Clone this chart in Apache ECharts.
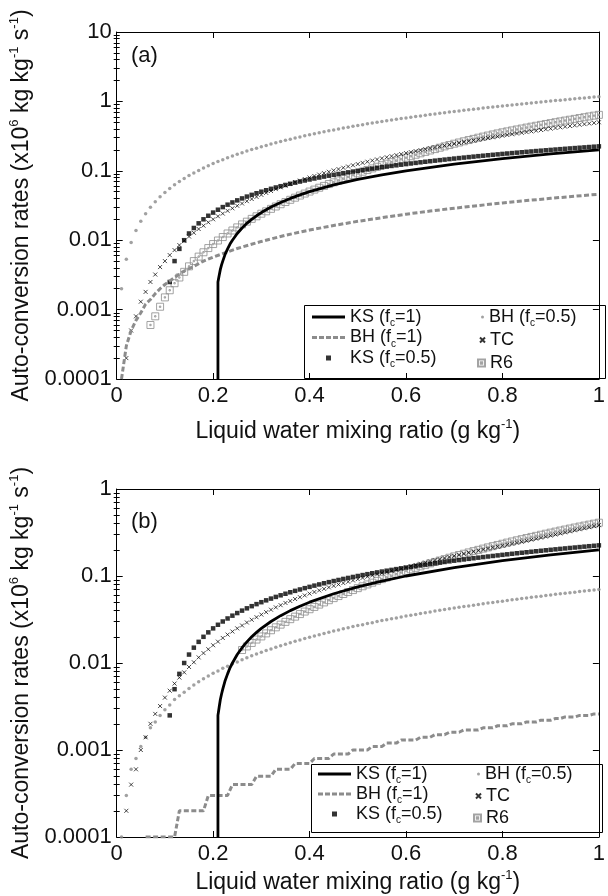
<!DOCTYPE html>
<html><head><meta charset="utf-8">
<script src="https://cdn.jsdelivr.net/npm/echarts@6/dist/echarts.min.js"></script>
<style>html,body{margin:0;padding:0;background:#fff}#c{width:608px;height:896px}</style>
</head><body><div id="c"></div>
<script>
// ---------------- DATA ----------------
const qGrid = [0.01,0.02,0.03,0.04,0.05,0.06,0.07,0.08,0.09,0.10,0.11,0.12,0.13,0.14,0.15,0.16,0.17,0.18,0.19,0.20,
0.21,0.22,0.23,0.24,0.25,0.26,0.27,0.28,0.29,0.30,0.31,0.32,0.33,0.34,0.35,0.36,0.37,0.38,0.39,0.40,
0.41,0.42,0.43,0.44,0.45,0.46,0.47,0.48,0.49,0.50,0.51,0.52,0.53,0.54,0.55,0.56,0.57,0.58,0.59,0.60,
0.61,0.62,0.63,0.64,0.65,0.66,0.67,0.68,0.69,0.70,0.71,0.72,0.73,0.74,0.75,0.76,0.77,0.78,0.79,0.80,
0.81,0.82,0.83,0.84,0.85,0.86,0.87,0.88,0.89,0.90,0.91,0.92,0.93,0.94,0.95,0.96,0.97,0.98,0.99,1.00];

const xTickLabels = ['0','0.2','0.4','0.6','0.8','1'];
const yDecadesA = [0.0001,0.001,0.01,0.1,1,10];
const yLabelsA = ['0.0001','0.001','0.01','0.1','1','10'];
const yDecadesB = [0.0001,0.001,0.01,0.1,1];
const yLabelsB = ['0.0001','0.001','0.01','0.1','1'];

// KS (fc=1) solid line, same in both panels
const ksFullQ = [0.21,0.21,0.2125,0.215,0.2175,0.22,0.225,0.23,0.235,0.24,0.25,0.26,0.27,0.28,0.29,0.30,0.32,0.34,0.36,0.38,0.40,0.45,0.50,0.55,0.60,0.70,0.80,0.90,1.00];
const ksFullRate = [0.0001,0.0025,0.0031,0.0038,0.0044,0.005,0.0063,0.0075,0.0088,0.01,0.0125,0.015,0.0175,0.02,0.0225,0.025,0.03,0.035,0.04,0.045,0.05,0.0625,0.075,0.0875,0.1,0.125,0.15,0.175,0.2];

// KS (fc=0.5) squares, both panels (q = 0.11 ... 1.00)
const ksHalfRate = [0.0025,0.005,0.0075,0.01,0.0125,0.015,0.0175,0.02,0.0225,0.025,
0.0275,0.03,0.0325,0.035,0.0375,0.04,0.0425,0.045,0.0475,0.05,0.0525,0.055,0.0575,0.06,0.0625,0.065,0.0675,0.07,0.0725,0.075,
0.0775,0.08,0.0825,0.085,0.0875,0.09,0.0925,0.095,0.0975,0.1,0.1025,0.105,0.1075,0.11,0.1125,0.115,0.1175,0.12,0.1225,0.125,
0.1275,0.13,0.1325,0.135,0.1375,0.14,0.1425,0.145,0.1475,0.15,0.1525,0.155,0.1575,0.16,0.1625,0.165,0.1675,0.17,0.1725,0.175,
0.1775,0.18,0.1825,0.185,0.1875,0.19,0.1925,0.195,0.1975,0.2,0.2025,0.205,0.2075,0.21,0.2125,0.215,0.2175,0.22,0.2225,0.225];

// ---- panel (a) ----
const bhHalfA = [0.0020,0.0053,0.0093,0.0138,0.0187,0.0241,0.0298,0.0359,0.0422,0.0488,0.0556,0.0627,0.07,0.0776,0.0853,0.0933,0.1014,0.1098,0.1183,0.1269,
0.1358,0.1448,0.1539,0.1633,0.1727,0.1823,0.1921,0.202,0.212,0.2221,0.2324,0.2428,0.2534,0.264,0.2748,0.2857,0.2967,0.3078,0.3191,0.3304,
0.3419,0.3534,0.3651,0.3768,0.3887,0.4007,0.4128,0.4249,0.4372,0.4496,0.462,0.4746,0.4872,0.4999,0.5128,0.5257,0.5387,0.5518,0.5649,0.5782,
0.5915,0.605,0.6184,0.632,0.6457,0.6594,0.6732,0.6871,0.7011,0.7152,0.7293,0.7436,0.7578,0.7722,0.7866,0.8012,0.8157,0.8304,0.8451,0.8599,
0.8748,0.8897,0.9047,0.9197,0.9349,0.9502,0.9654,0.9808,0.9962,1.0116,1.0273,1.0428,1.0584,1.0742,1.09,1.1059,1.1218,1.1378,1.1538,1.17];
const tcA = [0.0002,0.0005,0.0008,0.0013,0.0018,0.0025,0.0032,0.0041,0.005,0.0061,0.0072,0.0085,0.0098,0.0113,0.0128,0.0145,0.0162,0.0181,0.02,
0.0221,0.0242,0.0265,0.0288,0.0313,0.0338,0.0365,0.0392,0.0421,0.045,0.0481,0.0512,0.0545,0.0578,0.0613,0.0648,0.0685,0.0722,0.0761,0.08,
0.0841,0.0882,0.0925,0.0968,0.1013,0.1058,0.1105,0.1152,0.1201,0.125,0.1301,0.1352,0.1405,0.1458,0.1513,0.1568,0.1625,0.1682,0.1741,0.18,
0.1861,0.1922,0.1985,0.2048,0.2113,0.2178,0.2245,0.2312,0.2381,0.245,0.2521,0.2592,0.2665,0.2738,0.2813,0.2888,0.2965,0.3042,0.3121,0.32,
0.3281,0.3362,0.3445,0.3528,0.3613,0.3698,0.3785,0.3872,0.3961,0.405,0.4141,0.4232,0.4325,0.4418,0.4513,0.4608,0.4705,0.4802,0.4901,0.5];
const r6A = [0.0006,0.0008,0.0011,0.0015,0.0019,0.0024,0.0029,0.0035,0.0042,0.005,0.0058,0.0067,0.0077,0.0088,
0.0099,0.0111,0.0125,0.0138,0.0153,0.0169,0.0185,0.0203,0.0221,0.0241,0.0261,0.0283,0.0306,0.033,0.0355,0.0382,0.041,0.044,0.047,0.0502,
0.0536,0.057,0.0606,0.0644,0.0682,0.0726,0.0771,0.0818,0.0867,0.0918,0.0971,0.1026,0.1083,0.1143,0.1204,0.1267,0.1333,0.1401,0.1471,0.1543,
0.1622,0.1703,0.1787,0.1873,0.1963,0.2055,0.2151,0.2249,0.2351,0.2456,0.2559,0.2664,0.2773,0.2884,0.2999,0.311,0.3224,0.3341,0.3461,0.3583,
0.37,0.382,0.3943,0.4067,0.4194,0.4324,0.4456,0.459,0.4727,0.4866,0.5008,0.5153,0.53,0.5449,0.5601,0.5756,0.5913,0.6073,0.6235,0.64];
const bhFullQA = [0.01,0.02,0.03,0.04,0.05,0.06,0.07,0.08,0.09,0.10,0.12,0.14,0.16,0.18,0.20,0.25,0.30,0.35,0.40,0.45,0.50,0.55,0.60,0.65,0.70,0.75,0.80,0.85,0.90,0.95,1.00];
const bhFullA = [0.0001,0.0003,0.0005,0.0007,0.0009,0.0012,0.0014,0.0017,0.002,0.0023,0.0029,0.0036,0.0042,0.005,0.0057,0.0076,0.0096,0.0118,0.014,0.0163,0.0187,0.0211,0.0237,0.0263,0.0289,0.0316,0.0344,0.0372,0.0401,0.043,0.046];

// ---- panel (b) ----
const bhHalfB = [0.0001,0.0003,0.0006,0.0008,0.0011,0.0014,0.0018,0.0021,0.0025,0.0029,0.0033,0.0038,0.0042,0.0046,0.0051,0.0056,0.0061,0.0066,0.0071,0.0076,
0.0081,0.0087,0.0092,0.0098,0.0103,0.0109,0.0115,0.0121,0.0127,0.0133,0.0139,0.0145,0.0152,0.0158,0.0164,0.0171,0.0178,0.0184,0.0191,0.0198,
0.0205,0.0211,0.0218,0.0225,0.0233,0.024,0.0247,0.0254,0.0262,0.0269,0.0276,0.0284,0.0291,0.0299,0.0307,0.0315,0.0322,0.033,0.0338,0.0346,
0.0354,0.0362,0.037,0.0378,0.0386,0.0395,0.0403,0.0411,0.0419,0.0428,0.0436,0.0445,0.0453,0.0462,0.0471,0.0479,0.0488,0.0497,0.0506,0.0514,
0.0523,0.0532,0.0541,0.055,0.0559,0.0568,0.0578,0.0587,0.0596,0.0605,0.0615,0.0624,0.0633,0.0643,0.0652,0.0662,0.0671,0.0681,0.069,0.07];
const tcB = [0.0002,0.0004,0.0006,0.001,0.0014,0.002,0.0026,0.0032,0.004,0.0048,0.0058,0.0068,0.0078,0.009,0.0102,0.0116,0.013,0.0144,0.016,
0.0176,0.0194,0.0212,0.023,0.025,0.027,0.0292,0.0314,0.0336,0.036,0.0384,0.041,0.0436,0.0462,0.049,0.0516,0.0544,0.0571,0.0598,0.0627,
0.0655,0.0683,0.0712,0.074,0.077,0.0799,0.0829,0.0859,0.0889,0.092,0.0951,0.0982,0.1014,0.1045,0.1077,0.1111,0.1147,0.1182,0.1217,0.1253,
0.1295,0.1338,0.1382,0.1425,0.147,0.1516,0.1563,0.161,0.1656,0.1705,0.1754,0.1804,0.1855,0.1905,0.1958,0.201,0.2064,0.2118,0.2172,0.2227,
0.2288,0.2351,0.2414,0.2478,0.2543,0.2615,0.2689,0.2763,0.2839,0.2916,0.3001,0.3088,0.3176,0.3265,0.3357,0.345,0.3546,0.3642,0.374,0.384];
const r6B = [0.0141,0.0155,0.017,0.0186,0.0202,0.0219,0.0238,0.0257,0.0276,0.0297,0.0319,0.0341,0.0365,0.039,0.0415,
0.0441,0.0469,0.0497,0.0527,0.0557,0.0588,0.0621,0.0654,0.0689,0.0725,0.0762,0.08,0.0838,0.0879,0.092,0.0962,0.1006,0.105,0.1096,0.1143,
0.1192,0.1241,0.1292,0.1344,0.1397,0.1451,0.1506,0.1563,0.1622,0.1681,0.1742,0.1803,0.1867,0.1931,0.1997,0.2065,0.2133,0.2203,0.2274,0.2347,
0.2421,0.2496,0.2573,0.2651,0.2731,0.2812,0.2894,0.2979,0.3064,0.3151,0.3239,0.3329,0.342,0.3512,0.3607,0.3702,0.3799,0.3898,0.3998,0.41];
const bhFullB = [0.0001,0.0001,0.0001,0.0001,0.0001,0.0001,0.0001,
0.0002,0.0002,0.0002,0.0002,0.0002,0.0002,
0.0003,0.0003,0.0003,0.0003,0.0003,
0.0004,0.0004,0.0004,0.0004,0.0004,
0.0005,0.0005,0.0005,0.0005,
0.0006,0.0006,0.0006,0.0006,
0.0007,0.0007,0.0007,0.0007,
0.0008,0.0008,0.0008,0.0008,
0.0009,0.0009,0.0009,0.0009,
0.001,0.001,0.001,0.001,
0.0011,0.0011,0.0011,
0.0012,0.0012,0.0012,
0.0013,0.0013,0.0013,0.0013,
0.0014,0.0014,0.0014,
0.0015,0.0015,0.0015,
0.0016,0.0016,0.0016,
0.0017,0.0017,0.0017,0.0017,
0.0018,0.0018,0.0018,
0.0019,0.0019,0.0019,
0.002,0.002,0.002,
0.0021,0.0021,0.0021,
0.0022,0.0022,0.0022,
0.0023,0.0023,
0.0024,0.0024,0.0024,
0.0025,0.0025,0.0025,
0.0026,0.0026];

// ---------------- CHART ----------------
const FONT = '"Liberation Sans", Arial, Helvetica, sans-serif';
const INK = '#111';
const GRAY = '#8c8c8c';
const NAME = {ks1:'KS (fc=1)', bh1:'BH (fc=1)', ks05:'KS (fc=0.5)', bh05:'BH (fc=0.5)', tc:'TC', r6:'R6'};
const X_PATH = 'path://M0,0L10,10M10,0L0,10';
const SQ_PATH = 'path://M0,0L10,0L10,10L0,10Z';
const R6_PATH = 'path://M0,0L10,0L10,10L0,10Z M4,4L6,4L6,6L4,6Z';
const ICON_SOLID = 'path://M0,0L33,0L33,3L0,3Z';
const ICON_DASH = 'path://M0,0L5,0L5,3L0,3Z M7,0L12,0L12,3L7,3Z M14,0L19,0L19,3L14,3Z M21,0L26,0L26,3L21,3Z M28,0L33,0L33,3L28,3Z';

function tail(vals){ const q = qGrid.slice(qGrid.length - vals.length); return vals.map((v,i)=>[q[i], v]); }
function pairs(qs, vs){ return qs.map((q,i)=>[q, vs[i]]); }
function minorLog(decades){ const out=[]; for(let i=0;i<decades.length-1;i++){ for(let m=2;m<=9;m++){ out.push(Math.log10(decades[i]*m)); } } return out; }
function labelFor(decades, labels){ return v => { for(let i=0;i<decades.length;i++){ if(Math.abs(Math.log10(v)-Math.log10(decades[i]))<1e-6) return labels[i]; } return ''; }; }

const grids = [
  {left:112, top:32, width:497, height:347},
  {left:107, top:489, width:497, height:348}
];
const panels = [
  {decades:yDecadesA, labels:yLabelsA, bhHalf:bhHalfA, tc:tcA, r6:r6A, bhQ:bhFullQA, bhV:bhFullA, xNameGap:39, yNameGap:80},
  {decades:yDecadesB, labels:yLabelsB, bhHalf:bhHalfB, tc:tcB, r6:r6B, bhQ:qGrid.slice(qGrid.length-bhFullB.length), bhV:bhFullB, xNameGap:32, yNameGap:75}
];

const axisLine = {show:true, onZero:false, lineStyle:{color:'#000', width:1}};
const xName = '{n|Liquid water mixing ratio (g kg}{s|-1}{n|)}';
const yName = '{n|Auto-conversion rates (x10}{s|6}{n| kg kg}{s|-1}{n| s}{s|-1}{n|)}';
const nameRich = {
  n:{fontSize:23, fontFamily:FONT, color:INK, lineHeight:28},
  s:{fontSize:13, fontFamily:FONT, color:INK, lineHeight:14, verticalAlign:'top'}
};

const xAxis = [], yAxis = [], series = [];
panels.forEach((p, gi) => {
  const lo = p.decades[0], hi = p.decades[p.decades.length-1];
  xAxis.push({gridIndex:gi, type:'value', min:0, max:1, interval:0.2, position:'bottom',
    axisLine, axisTick:{show:true, inside:true, length:6, lineStyle:{color:'#000'}},
    splitLine:{show:false},
    axisLabel:{margin:6, fontSize:22, fontFamily:FONT, color:INK, formatter:(v)=>xTickLabels[Math.round(v/0.2)]},
    name:xName, nameLocation:'middle', nameGap:p.xNameGap, nameTextStyle:{rich:nameRich}
  });
  xAxis.push({gridIndex:gi, type:'value', min:0, max:1, interval:0.2, position:'top',
    axisLine, axisTick:{show:true, inside:true, length:6, lineStyle:{color:'#000'}},
    splitLine:{show:false}, axisLabel:{show:false}});
  yAxis.push({gridIndex:gi, type:'log', logBase:10, min:lo, max:hi, position:'left',
    axisLine, axisTick:{show:true, inside:true, length:6, lineStyle:{color:'#000'}},
    splitLine:{show:false}, minorTick:{show:false},
    axisLabel:{margin:5, fontSize:22, fontFamily:FONT, color:INK, formatter:labelFor(p.decades, p.labels)},
    name:yName, nameLocation:'middle', nameGap:p.yNameGap, nameTextStyle:{rich:nameRich}
  });
  yAxis.push({gridIndex:gi, type:'value', min:Math.log10(lo), max:Math.log10(hi), position:'left',
    axisLine:{show:false}, splitLine:{show:false}, axisLabel:{show:false},
    axisTick:{show:true, inside:true, length:3, customValues:minorLog(p.decades), lineStyle:{color:'#000'}}});
  yAxis.push({gridIndex:gi, type:'log', logBase:10, min:lo, max:hi, position:'right',
    axisLine, axisTick:{show:true, inside:true, length:6, lineStyle:{color:'#000'}},
    splitLine:{show:false}, axisLabel:{show:false}});
  yAxis.push({gridIndex:gi, type:'value', min:Math.log10(lo), max:Math.log10(hi), position:'right',
    axisLine:{show:false}, splitLine:{show:false}, axisLabel:{show:false},
    axisTick:{show:true, inside:true, length:3, customValues:minorLog(p.decades), lineStyle:{color:'#000'}}});

  const xi = gi*2, yi = gi*4;
  series.push(
    {type:'scatter', name:NAME.bh05, xAxisIndex:xi, yAxisIndex:yi, data:tail(p.bhHalf),
      symbol:'circle', symbolSize:3.5, itemStyle:{color:'#8a8a8a'}},
    {type:'scatter', name:NAME.r6, xAxisIndex:xi, yAxisIndex:yi, data:tail(p.r6),
      symbol:R6_PATH, symbolSize:7, itemStyle:{color:'rgba(255,255,255,0)', borderColor:'#8c8c8c', borderWidth:1}},
    {type:'scatter', name:NAME.tc, xAxisIndex:xi, yAxisIndex:yi, data:tail(p.tc),
      symbol:X_PATH, symbolSize:4, itemStyle:{color:'rgba(0,0,0,0)', borderColor:'#000', borderWidth:0.9}},
    {type:'scatter', name:NAME.ks05, xAxisIndex:xi, yAxisIndex:yi, data:tail(ksHalfRate),
      symbol:SQ_PATH, symbolSize:4.5, itemStyle:{color:'#000'}},
    {type:'line', name:NAME.bh1, xAxisIndex:xi, yAxisIndex:yi, data:pairs(p.bhQ, p.bhV),
      symbol:'none', lineStyle:{color:GRAY, width:3, type:[5,2.5]}, itemStyle:{color:GRAY}},
    {type:'line', name:NAME.ks1, xAxisIndex:xi, yAxisIndex:yi, data:pairs(ksFullQ, ksFullRate),
      symbol:'none', lineStyle:{color:'#000', width:2.8}, itemStyle:{color:'#000'}}
  );
});

function legendFmt(name){
  const m = name.match(/^(.*\(f)c(=.*)$/);
  if (m) return '{n|' + m[1] + '}{s|c}{n|' + m[2] + '}';
  return '{n|' + name + '}';
}
function legendRich(lh){ return {
  n:{fontSize:18, fontFamily:FONT, color:INK, lineHeight:lh},
  s:{fontSize:10, fontFamily:FONT, color:INK, lineHeight:10, verticalAlign:'bottom'}
};}
function legend(data, left, top, iw, ih, lh){
  return {data, orient:'vertical', left, top, itemWidth:iw, itemHeight:ih, itemGap:0, padding:0,
    selectedMode:false, formatter:legendFmt, textStyle:{rich:legendRich(lh)}};
}
const col1 = [{name:NAME.ks1, icon:ICON_SOLID}, {name:NAME.bh1, icon:ICON_DASH}, {name:NAME.ks05}];

const option = {
  animation:false,
  backgroundColor:'#fff',
  grid:grids,
  xAxis, yAxis, series,
  title:[
    {text:'(a)', left:131, top:45, padding:0, textStyle:{fontSize:22, fontWeight:'normal', fontFamily:FONT, color:INK}},
    {text:'(b)', left:131, top:511, padding:0, textStyle:{fontSize:22, fontWeight:'normal', fontFamily:FONT, color:INK}}
  ],
  legend:[
    legend(col1, 312, 308, 33, 5, 23),
    legend([NAME.bh05], 481, 308, 3, 3, 23),
    legend([NAME.tc], 479, 331, 5, 5, 23),
    legend([NAME.r6], 477, 354, 7, 7, 23),
    legend(col1, 318, 765, 33, 5, 22),
    legend([NAME.bh05], 477, 765, 3, 3, 22),
    legend([NAME.tc], 475, 787, 5, 5, 22),
    legend([NAME.r6], 473, 809, 7, 7, 22)
  ],
  graphic:[
    {type:'rect', z:100, shape:{x:304.5, y:305.5, width:301, height:73}, style:{fill:null, stroke:'#000', lineWidth:1}},
    {type:'rect', z:100, shape:{x:311.5, y:764.5, width:291, height:68}, style:{fill:null, stroke:'#000', lineWidth:1}}
  ]
};
const chart = echarts.init(document.getElementById('c'), null, {renderer:'canvas', width:608, height:896});
chart.setOption(option);
</script>
</body></html>
